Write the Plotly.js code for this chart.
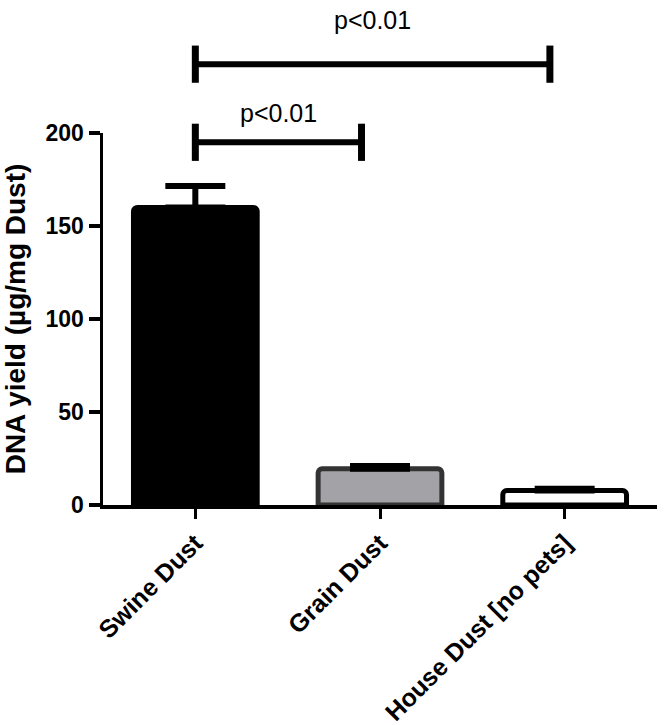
<!DOCTYPE html>
<html>
<head>
<meta charset="utf-8">
<script src="https://cdn.plot.ly/plotly-3.0.1.min.js"></script>
<style>html,body{margin:0;padding:0;background:#fff;}#chart{width:664px;height:725px;}</style>
</head>
<body>
<div id="chart"></div>
<script>
// ---- data ----
const categories = ["Swine Dust", "Grain Dust", "House Dust [no pets]"];
const dnaYield = [160, 19.5, 7.8];
const errorUp = [11.5, 1.5, 1.0];
const barColors = ["#000000", "#a3a3a7", "#ffffff"];
const barLineColors = ["#000000", "#333333", "#000000"];
// significance brackets (x in category index units, height in data units)
const bracketStart = [0, 0];
const bracketEnd = [0.9, 1.92];
const bracketHeight = [195, 237];
const bracketLabelHeight = [211, 261];
const bracketLabels = ["p<0.01", "p<0.01"];
const yTicks = [0, 50, 100, 150, 200];

const yMax = 200;
const FONT = "Liberation Sans, Arial, Helvetica, sans-serif";

const shapes = [];
const annotations = [];
const tickHalf = 10;
for (let i = 0; i < bracketStart.length; i++) {
  const line = {color: "#000", width: 6};
  shapes.push({type: "line", xref: "x", yref: "y domain",
    x0: bracketStart[i], x1: bracketEnd[i],
    y0: bracketHeight[i] / yMax, y1: bracketHeight[i] / yMax, line: line});
  [bracketStart[i], bracketEnd[i]].forEach(function (xv) {
    shapes.push({type: "line", xref: "x", yref: "y domain",
      x0: xv, x1: xv,
      y0: (bracketHeight[i] - tickHalf) / yMax, y1: (bracketHeight[i] + tickHalf) / yMax,
      line: {color: "#000", width: 7}});
  });
  annotations.push({xref: "x", yref: "y domain",
    x: (bracketStart[i] + bracketEnd[i]) / 2, y: bracketLabelHeight[i] / yMax,
    text: bracketLabels[i], showarrow: false, xanchor: "center", yanchor: "middle",
    font: {family: FONT, size: 25, color: "#000"}});
}

const trace = {
  type: "bar",
  x: categories,
  y: dnaYield,
  marker: {color: barColors, line: {color: barLineColors, width: 5}, cornerradius: 4},
  error_y: {type: "data", symmetric: false, array: errorUp, arrayminus: [0, 0, 0],
    color: "#000", thickness: 6, width: 30},
  hoverinfo: "skip"
};

const layout = {
  width: 664, height: 725,
  margin: {l: 103, r: 7, t: 133, b: 220, pad: 0},
  paper_bgcolor: "#fff", plot_bgcolor: "#fff",
  showlegend: false,
  bargap: 0.33,
  xaxis: {
    type: "category", range: [-0.5, 2.5],
    showline: true, linecolor: "#000", linewidth: 3.5,
    ticks: "outside", ticklen: 10, tickwidth: 3, tickcolor: "#000",
    tickangle: -45, showgrid: false, zeroline: false,
    tickfont: {family: FONT, size: 25, color: "#000", weight: "bold"}
  },
  yaxis: {
    range: [0, yMax], tickvals: yTicks, ticktext: yTicks.map(String),
    showline: true, linecolor: "#000", linewidth: 3.5,
    ticks: "outside", ticklen: 11, tickwidth: 3.5, tickcolor: "#000",
    showgrid: false, zeroline: false,
    tickfont: {family: FONT, size: 23, color: "#000", weight: "bold"},
    title: {text: "DNA yield (µg/mg Dust)", standoff: 12,
      font: {family: FONT, size: 28, color: "#000", weight: "bold"}}
  },
  shapes: shapes,
  annotations: annotations
};

Plotly.newPlot("chart", [trace], layout, {staticPlot: true, displayModeBar: false});
</script>
</body>
</html>
